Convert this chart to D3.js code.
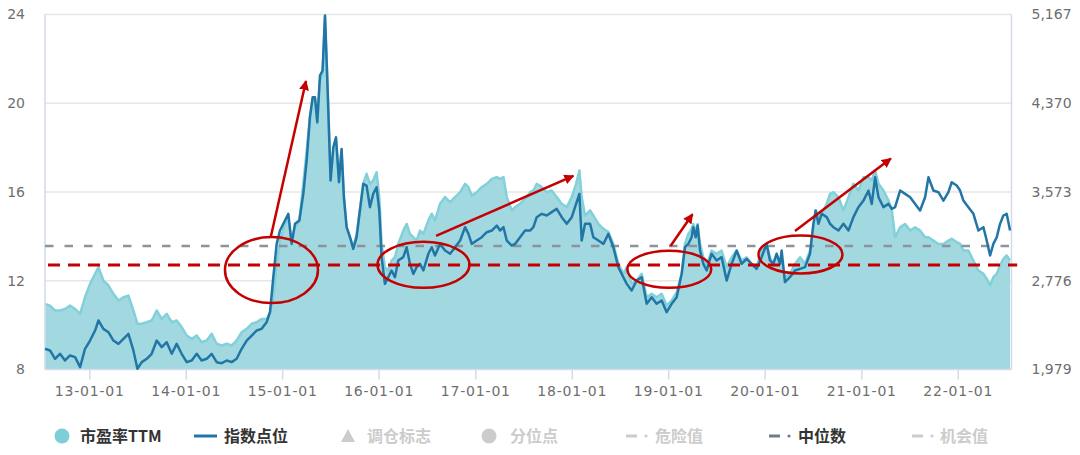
<!DOCTYPE html>
<html><head><meta charset="utf-8">
<script src="https://cdn.jsdelivr.net/npm/d3@7"></script>
<style>
html,body{margin:0;padding:0;background:#fff;}
svg{display:block;}
</style></head><body>
<svg id="c" width="1080" height="455"></svg>
<script>
// ---------- DATA ----------
const years = [
2012.542,2012.594,2012.646,2012.697,2012.749,2012.801,2012.853,2012.905,2012.956,2013.008,
2013.060,2013.095,2013.146,2013.198,2013.250,2013.302,2013.354,2013.406,2013.457,2013.499,
2013.544,2013.596,2013.647,2013.699,2013.751,2013.803,2013.855,2013.906,2013.958,2014.010,
2014.062,2014.114,2014.165,2014.217,2014.269,2014.321,2014.373,2014.425,2014.476,2014.528,
2014.580,2014.632,2014.684,2014.735,2014.787,2014.839,2014.874,2014.908,2014.943,2014.977,
2015.029,2015.064,2015.098,2015.133,2015.178,2015.219,2015.254,2015.288,2015.316,2015.340,
2015.364,2015.392,2015.419,2015.444,2015.468,2015.502,2015.530,2015.558,2015.589,2015.616,
2015.640,2015.668,2015.703,2015.737,2015.772,2015.806,
2015.841,2015.875,2015.910,2015.944,2015.979,2016.007,2016.031,2016.065,2016.100,2016.134,
2016.169,2016.203,2016.255,2016.290,2016.324,2016.359,2016.393,2016.428,2016.463,2016.514,
2016.549,2016.583,2016.635,2016.687,2016.739,2016.791,2016.843,2016.894,2016.929,2016.963,
2017.015,2017.067,2017.119,2017.171,2017.222,2017.257,2017.292,2017.326,2017.378,2017.412,
2017.464,2017.516,2017.568,2017.602,2017.637,2017.689,2017.741,2017.792,2017.844,2017.896,
2017.948,2018.000,2018.045,2018.079,2018.103,2018.138,2018.190,2018.224,2018.276,2018.328,
2018.380,2018.431,2018.483,2018.535,2018.570,2018.621,2018.673,2018.725,2018.777,2018.829,
2018.880,2018.932,2018.984,2019.036,2019.088,2019.140,
2019.174,2019.209,2019.243,2019.260,2019.285,2019.305,2019.330,2019.364,2019.399,2019.450,
2019.502,2019.554,2019.606,2019.658,2019.710,2019.761,2019.813,2019.865,2019.917,2019.969,
2020.020,2020.055,2020.090,2020.124,2020.159,2020.176,2020.210,2020.262,2020.314,2020.366,
2020.418,2020.469,2020.504,2020.528,2020.556,2020.590,2020.642,2020.677,2020.711,2020.763,
2020.815,2020.867,2020.918,2020.970,2021.022,2021.074,2021.108,2021.143,2021.178,2021.229,
2021.281,2021.316,2021.350,2021.402,2021.454,2021.506,2021.558,2021.609,2021.661,2021.696,
2021.747,2021.799,2021.851,2021.903,2021.937,2021.989,2022.024,2022.058,2022.110,2022.162,
2022.214,2022.266,2022.300,2022.335,2022.369,2022.404,2022.438,2022.473,2022.507,2022.542
];
const peTTM = [
10.96,10.88,10.66,10.66,10.73,10.88,10.73,10.51,11.26,11.86,
12.31,12.61,12.01,11.79,11.41,11.11,11.26,11.33,10.66,10.06,
10.06,10.13,10.21,10.66,10.28,10.51,10.13,10.21,9.91,9.53,
9.38,9.53,9.23,9.31,9.61,9.16,9.08,9.16,9.08,9.31,
9.68,9.83,10.06,10.13,10.28,10.28,10.58,11.26,12.76,13.81,
14.56,14.79,13.81,14.41,14.71,16.37,17.87,19.37,20.12,20.20,
19.07,21.02,21.32,23.88,21.17,16.67,17.87,18.40,16.67,17.87,
15.77,14.41,13.96,13.51,14.11,15.17,
16.37,16.82,16.37,16.52,16.89,15.77,13.66,12.61,12.46,12.91,
13.06,13.66,14.26,14.56,14.11,13.96,13.81,14.26,14.11,14.71,
15.02,14.71,15.47,15.77,15.54,15.77,15.99,16.37,16.22,15.84,
15.99,16.22,16.37,16.59,16.67,16.59,16.67,15.77,15.17,15.32,
15.47,15.69,15.99,16.07,16.37,16.22,15.99,16.07,15.77,15.47,
15.32,15.77,16.37,16.97,15.77,14.94,15.17,14.94,14.56,14.34,
14.19,13.66,12.76,12.31,12.61,11.86,12.01,12.31,11.26,11.41,
11.26,11.41,10.88,11.11,11.49,12.31,
13.66,14.11,14.34,14.56,14.19,14.56,13.66,13.06,12.69,13.36,
13.21,13.36,12.61,13.06,13.36,12.91,13.06,12.76,12.61,13.36,
13.66,13.06,12.76,13.21,12.76,12.91,12.16,12.31,12.76,13.06,
12.76,13.36,14.41,15.17,14.87,15.02,15.47,15.92,15.99,15.77,
15.17,15.77,16.37,16.07,16.67,16.67,16.52,16.97,16.37,16.07,
15.62,15.17,13.96,14.41,14.56,14.26,14.41,14.26,13.96,13.96,
13.81,13.66,13.66,13.81,13.89,13.74,13.66,13.36,13.36,12.91,
12.46,12.31,12.09,11.79,12.16,12.31,12.69,12.99,13.14,12.91
];
const indexPoints = [
2165,2150,2075,2120,2060,2105,2090,2000,2165,2239,
2329,2419,2344,2314,2239,2209,2254,2299,2150,1985,
2045,2075,2120,2239,2180,2224,2120,2209,2120,2045,
2060,2120,2060,2075,2120,2045,2036,2060,2045,2075,
2165,2239,2284,2329,2344,2404,2494,2808,3107,3227,
3317,3377,3107,3287,3317,3556,3856,4245,4424,4424,
4200,4619,4664,5158,4574,3676,3975,4065,3661,3960,
3526,3257,3167,3062,3167,3407,
3646,3631,3437,3556,3616,3407,2988,2748,2808,2868,
2808,2958,2988,3077,2928,2838,2898,2928,2868,3018,
3077,3003,3107,3047,3018,3077,3137,3257,3197,3107,
3137,3167,3212,3227,3272,3227,3257,3137,3092,3107,
3167,3227,3227,3257,3347,3377,3362,3392,3422,3347,
3287,3347,3466,3556,3137,3287,3287,3167,3137,3107,
3197,3077,2898,2808,2748,2688,2778,2808,2569,2628,
2569,2599,2494,2569,2628,2838,
3077,3107,3167,3257,3167,3272,3047,2928,2868,3018,
2958,2988,2778,2928,3047,2928,2973,2928,2883,2988,
3107,2958,2928,3018,2928,3047,2763,2808,2868,2883,
2898,3018,3287,3407,3287,3377,3347,3287,3257,3227,
3287,3227,3347,3437,3496,3586,3466,3706,3526,3437,
3466,3422,3437,3586,3556,3526,3466,3407,3526,3706,
3586,3571,3496,3571,3661,3631,3586,3496,3437,3377,
3227,3257,3137,3003,3107,3167,3287,3362,3377,3227
];
const leftTicks = [8, 12, 16, 20, 24];
const rightTicks = [1979, 2776, 3573, 4370, 5167];
const xTickYears = [2013, 2014, 2015, 2016, 2017, 2018, 2019, 2020, 2021, 2022];
const medianPE = 13.57;
const markPE = 12.71;
const markSpan = [2012.573, 2022.616];
// annotations: ellipse centers [year, PE]
const ellipseYears = [2014.889, 2016.464, 2019.011, 2020.371];
const ellipsePE = [12.48, 12.72, 12.52, 13.18];
// arrows: [fromYear, fromPE, toYear, toPE]
const arrowFromYears = [2014.884, 2016.594, 2019.024, 2020.314];
const arrowFromPE = [14.02, 14.02, 13.57, 14.24];
const arrowToYears = [2015.247, 2018.017, 2019.252, 2021.306];
const arrowToPE = [21.0, 16.73, 15.0, 17.51];
const legendNames = ["市盈率TTM", "指数点位", "调仓标志", "分位点", "危险值", "中位数", "机会值"];
const legendActive = [true, true, false, false, false, true, false];

// ---------- CHART ----------
const svg = d3.select("#c");
const L = 45, R = 1011.5, T = 14.5, B = 369.5;
function toDate(y) {
  const yr = Math.floor(y);
  const s = Date.UTC(yr, 0, 1), e = Date.UTC(yr + 1, 0, 1);
  return new Date(s + (y - yr) * (e - s));
}
const x = d3.scaleUtc().domain([toDate(2012.542), toDate(2022.557)]).range([L, R]);
const yL = d3.scaleLinear().domain([8, 24]).range([B, T]);
const yR = d3.scaleLinear().domain([1979, 5167]).range([B, T]);
const data = years.map((y, i) => ({ d: toDate(y), pe: peTTM[i], idx: indexPoints[i] }));

const tickFont = "'DejaVu Sans', sans-serif";
const cjk = "'Noto Sans CJK SC', 'Noto Sans', sans-serif";

// grid
svg.append("g").selectAll("line").data(leftTicks.filter(t => t > 8)).join("line")
  .attr("x1", L).attr("x2", R).attr("y1", d => yL(d)).attr("y2", d => yL(d))
  .attr("stroke", "#e6e6e6").attr("stroke-width", 1.5);

// area + PE line
svg.append("path").datum(data)
  .attr("d", d3.area().x(d => x(d.d)).y0(B).y1(d => yL(d.pe)))
  .attr("fill", "#a2d9e1");
svg.append("path").datum(data)
  .attr("d", d3.line().x(d => x(d.d)).y(d => yL(d.pe)))
  .attr("fill", "none").attr("stroke", "#82d0d9").attr("stroke-width", 2.5).attr("stroke-linejoin", "round");

// axes frame
svg.append("line").attr("x1", L).attr("x2", L).attr("y1", T).attr("y2", B).attr("stroke", "#d3dbe8").attr("stroke-width", 1.5);
svg.append("line").attr("x1", R).attr("x2", R).attr("y1", T).attr("y2", B).attr("stroke", "#d3dbe8").attr("stroke-width", 1.5);
svg.append("line").attr("x1", L).attr("x2", R).attr("y1", B).attr("y2", B).attr("stroke", "#d3dbe8").attr("stroke-width", 1.5);

// median dashed
svg.append("line").attr("x1", L).attr("x2", R).attr("y1", yL(medianPE)).attr("y2", yL(medianPE))
  .attr("stroke", "#8c939c").attr("stroke-width", 2.5).attr("stroke-dasharray", "8.5,11");

// index line
svg.append("path").datum(data)
  .attr("d", d3.line().x(d => x(d.d)).y(d => yR(d.idx)))
  .attr("fill", "none").attr("stroke", "#2176a6").attr("stroke-width", 2.5).attr("stroke-linejoin", "round");

// x axis ticks + labels
const xg = svg.append("g").attr("transform", `translate(0,${B})`)
  .call(d3.axisBottom(x).tickValues(xTickYears.map(y => new Date(Date.UTC(y, 0, 1))))
    .tickFormat(d3.utcFormat("%y-%m-%d")).tickSize(10).tickPadding(7));
xg.select(".domain").remove();
xg.selectAll(".tick line").attr("stroke", "#d3dbe8").attr("stroke-width", 1.5);
xg.selectAll(".tick text").attr("fill", "#6e6e6e").style("font", `14px ${tickFont}`).style("letter-spacing", "0.8px");

// left axis labels
const lg = svg.append("g").attr("transform", `translate(${L},0)`)
  .call(d3.axisLeft(yL).tickValues(leftTicks).tickSize(0).tickPadding(20));
lg.select(".domain").remove();
lg.selectAll(".tick text").attr("fill", "#6e6e6e").style("font", `14px ${tickFont}`);

// right axis labels
const rg = svg.append("g").attr("transform", `translate(${R},0)`)
  .call(d3.axisRight(yR).tickValues(rightTicks).tickFormat(d3.format(",")).tickSize(0).tickPadding(20));
rg.select(".domain").remove();
rg.selectAll(".tick text").attr("fill", "#6e6e6e").style("font", `14px ${tickFont}`);

// annotations
const red = "#c40000";
svg.append("line").attr("x1", x(toDate(markSpan[0]))).attr("x2", x(toDate(markSpan[1])))
  .attr("y1", yL(markPE)).attr("y2", yL(markPE))
  .attr("stroke", red).attr("stroke-width", 3).attr("stroke-dasharray", "12,8");
const erx = [46.5, 46, 42, 42], ery = [33, 23, 18.5, 19];
svg.append("g").selectAll("ellipse").data(ellipseYears).join("ellipse")
  .attr("cx", (d, i) => x(toDate(d))).attr("cy", (d, i) => yL(ellipsePE[i]))
  .attr("rx", (d, i) => erx[i]).attr("ry", (d, i) => ery[i])
  .attr("fill", "none").attr("stroke", red).attr("stroke-width", 2.5);
svg.append("defs").append("marker").attr("id", "ah").attr("viewBox", "0 0 10 10")
  .attr("refX", 9).attr("refY", 5).attr("markerWidth", 4).attr("markerHeight", 4)
  .attr("markerUnits", "strokeWidth").attr("orient", "auto")
  .append("path").attr("d", "M0,0 L10,5 L0,10 z").attr("fill", red);
svg.append("g").selectAll("line").data(arrowFromYears).join("line")
  .attr("x1", d => x(toDate(d))).attr("y1", (d, i) => yL(arrowFromPE[i]))
  .attr("x2", (d, i) => x(toDate(arrowToYears[i]))).attr("y2", (d, i) => yL(arrowToPE[i]))
  .attr("stroke", red).attr("stroke-width", 2.5).attr("marker-end", "url(#ah)");

// legend
const ly = 436;
const lgX = [80, 224, 367, 510, 655, 798, 940];
const on = "#333", off = "#cccccc";
const leg = svg.append("g");
leg.append("circle").attr("cx", 62).attr("cy", ly).attr("r", 7.5).attr("fill", "#7ccfd8");
leg.append("line").attr("x1", 194).attr("x2", 217).attr("y1", ly).attr("y2", ly).attr("stroke", "#2176a6").attr("stroke-width", 3);
leg.append("path").attr("d", `M348,${ly - 7} L355,${ly + 6} L341,${ly + 6} Z`).attr("fill", off);
leg.append("circle").attr("cx", 489).attr("cy", ly).attr("r", 7.5).attr("fill", off);
[[626, off], [769, "#6f7c8c"], [912, off]].forEach(([sx, c]) => {
  leg.append("line").attr("x1", sx).attr("x2", sx + 11).attr("y1", ly).attr("y2", ly).attr("stroke", c).attr("stroke-width", 3);
  leg.append("circle").attr("cx", sx + 20).attr("cy", ly).attr("r", 1.6).attr("fill", c);
});
leg.selectAll("text").data(legendNames).join("text")
  .attr("x", (d, i) => lgX[i]).attr("y", ly).attr("dy", "0.36em")
  .attr("fill", (d, i) => legendActive[i] ? on : off)
  .style("font", `bold 16px ${cjk}`).text(d => d);
</script>
</body></html>
